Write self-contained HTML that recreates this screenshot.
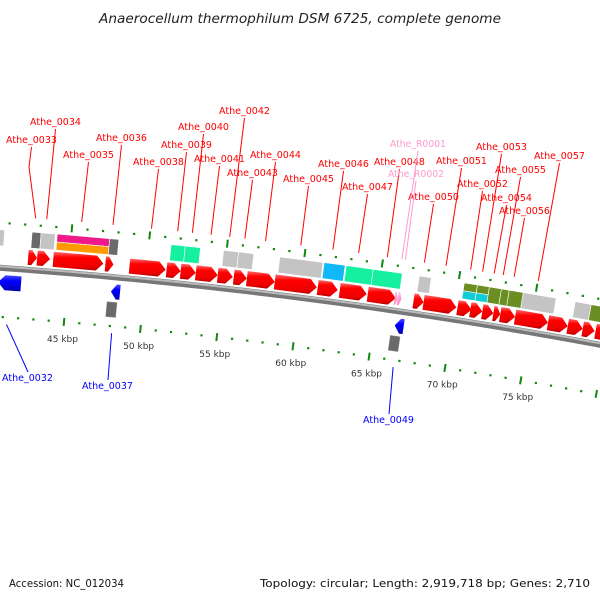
<!DOCTYPE html>
<html><head><meta charset="utf-8"><style>
html,body{margin:0;padding:0;background:#fff;width:600px;height:600px;overflow:hidden}
svg text{font-family:"DejaVu Sans","Liberation Sans",sans-serif}
</style></head><body>
<svg id="map" width="600" height="600" viewBox="0 0 600 600" xmlns="http://www.w3.org/2000/svg">
<defs>
<linearGradient id="gRed" x1="0" y1="0" x2="0" y2="1"><stop offset="0" stop-color="#ff6a6a"/><stop offset="0.3" stop-color="#ff0000"/><stop offset="0.8" stop-color="#ee0000"/><stop offset="1" stop-color="#b00000"/></linearGradient>
<linearGradient id="gBlue" x1="0" y1="0" x2="0" y2="1"><stop offset="0" stop-color="#5050ff"/><stop offset="0.35" stop-color="#0000ff"/><stop offset="1" stop-color="#0000b0"/></linearGradient>
<linearGradient id="gPink" x1="0" y1="0" x2="0" y2="1"><stop offset="0" stop-color="#ffc0e0"/><stop offset="1" stop-color="#ff80c0"/></linearGradient>
<linearGradient id="gBack" x1="0" y1="0" x2="0" y2="1"><stop offset="0" stop-color="#d0d0d0"/><stop offset="0.4" stop-color="#999"/><stop offset="1" stop-color="#666"/></linearGradient>
</defs>
<text x="300" y="23" font-size="13" font-style="italic" fill="#222" text-anchor="middle" textLength="402" lengthAdjust="spacingAndGlyphs">Anaerocellum thermophilum DSM 6725, complete genome</text>
<g id="plot"></g>
<text x="9" y="587" font-size="11" fill="#111" textLength="115" lengthAdjust="spacingAndGlyphs">Accession: NC_012034</text>
<text x="590" y="587" font-size="11" fill="#111" text-anchor="end" textLength="330" lengthAdjust="spacingAndGlyphs">Topology: circular; Length: 2,919,718 bp; Genes: 2,710</text>
</svg>
<script>
// ---- data (positions in kbp) ----
const fwdStart = [39.5,42.35,42.93,43.97,47.34,48.90,51.30,52.21,53.19,54.61,55.65,56.50,58.31,61.10,62.53,64.35,67.33,67.98,70.19,71.03,71.81,72.53,72.98,73.95,76.10,77.39,78.37,79.21];
const fwdEnd   = [40.55,42.93,43.77,47.21,47.86,51.24,52.21,53.19,54.61,55.59,56.50,58.31,61.04,62.40,64.28,66.17,67.98,70.12,71.10,71.81,72.53,72.98,73.95,76.10,77.39,78.37,79.15,80.2];
const fwdLabel = ["","Athe_0033","Athe_0034","Athe_0035","Athe_0036","Athe_0038","Athe_0039","Athe_0040","Athe_0041","Athe_0042","Athe_0043","Athe_0044","Athe_0045","Athe_0046","Athe_0047","Athe_0048","Athe_0050","Athe_0051","Athe_0052","Athe_0053","Athe_0054","Athe_0055","Athe_0056","Athe_0057","","","",""];
const rnaStart = [66.10,66.30];
const rnaEnd   = [66.30,66.55];
const rnaLabel = ["Athe_R0001","Athe_R0002"];
const revStart = [40.53,47.86,66.36];
const revEnd   = [42.02,48.45,66.94];
const revLabel = ["Athe_0032","Athe_0037","Athe_0049"];
const revBoxStart = [47.67,66.17];
const revBoxEnd   = [48.32,66.81];
const featStart = [39.5,42.48,43.06,44.10,44.10,47.47,51.43,52.34,54.81,55.78,58.44,61.30,62.73,64.48,67.46,70.38,71.23,70.38,71.23,72.01,72.79,73.30,74.21,77.59,78.63];
const featEnd   = [40.72,43.06,43.97,47.47,47.47,48.06,52.34,53.32,55.78,56.76,61.23,62.66,64.48,66.36,68.24,71.23,72.01,71.23,72.01,72.79,73.30,74.21,76.35,78.63,80.2];
const featType  = ["lg","dg","lg","pink","orange","dg","mint","mint","lg","lg","lg","blue","mint","mint","lg","olive","olive","cyan","cyan","olive","olive","olive","lg","lg","olive"];
const featRow   = ["full","full","full","top","bottom","full","full","full","full","full","full","full","full","full","full","top","top","bottom","bottom","full","full","full","full","full","full"];
const tickLabels = [45,50,55,60,65,70,75];
// label placement (layout)
const fwdLabelPos = {"Athe_0033":[6,143],"Athe_0034":[30,125],"Athe_0035":[63,158],"Athe_0036":[96,141],"Athe_0038":[133,165],"Athe_0039":[161,148],"Athe_0040":[178,130],"Athe_0041":[194,162],"Athe_0042":[219,114],"Athe_0043":[227,176],"Athe_0044":[250,158],"Athe_0045":[283,182],"Athe_0046":[318,167],"Athe_0047":[342,190],"Athe_0048":[374,165],"Athe_0050":[408,200],"Athe_0051":[436,164],"Athe_0052":[457,187],"Athe_0053":[476,150],"Athe_0054":[481,201],"Athe_0055":[495,173],"Athe_0056":[499,214],"Athe_0057":[534,159],"Athe_R0001":[390,147],"Athe_R0002":[388,177]};
const revLabelPos = {"Athe_0032":[2,381],"Athe_0037":[82,389],"Athe_0049":[363,423]};

const CX=-386, CY=5654, PHI0=4.824, DPHI=0.1644;
function ang(p){return (PHI0+(p-45)*DPHI)*Math.PI/180;}
function pt(p,r){const a=ang(p);return [CX+r*Math.sin(a), CY-r*Math.cos(a)];}
const NS='http://www.w3.org/2000/svg';
const plot=document.getElementById('plot');
function mk(tag,attrs){const e=document.createElementNS(NS,tag);for(const k in attrs)e.setAttribute(k,attrs[k]);plot.appendChild(e);return e;}
function poly(pts){return pts.map(q=>q[0].toFixed(2)+','+q[1].toFixed(2)).join(' ');}
function box(p1,p2,r1,r2){return poly([pt(p1,r1),pt(p2,r1),pt(p2,r2),pt(p1,r2)]);}
function arrowF(p1,p2,r1,r2){const t=Math.min(0.45,(p2-p1)*0.6);const m=(r1+r2)/2;return poly([pt(p1,r1),pt(p2-t,r1),pt(p2,m),pt(p2-t,r2),pt(p1,r2)]);}
function arrowR(p1,p2,r1,r2){const t=Math.min(0.45,(p2-p1)*0.6);const m=(r1+r2)/2;return poly([pt(p2,r1),pt(p1+t,r1),pt(p1,m),pt(p1+t,r2),pt(p2,r2)]);}

// tick rings
for(let p=39;p<=81;p++){
  [5445,5351].forEach(function(r,i){
    let e;
    if(p%5===0){const a=pt(p,r-4),b=pt(p,r+4);
      e=mk('line',{x1:a[0],y1:a[1],x2:b[0],y2:b[1],stroke:'#118811','stroke-width':2});
    }else{const c=pt(p,r);e=mk('rect',{x:c[0]-1.1,y:c[1]-1.1,width:2.2,height:2.2,fill:'#118811'});}
    
    
  });
}
tickLabels.forEach(function(v){
  const c=pt(v,5333);
  const t=mk('text',{x:c[0],y:c[1]+2,'font-size':9,fill:'#333','text-anchor':'middle'});
  t.textContent=v+' kbp';
  
  
});

// backbone
(function(){
  let d='';for(let p=38;p<=82;p+=0.5){const q=pt(p,5400);d+=(d?'L':'M')+q[0].toFixed(2)+' '+q[1].toFixed(2);}
  const s=mk('path',{d:d,stroke:'#777',"stroke-width":6,fill:'none'});
  
  
  let d2='';for(let p=38;p<=82;p+=0.5){const q=pt(p,5401.5);d2+=(d2?'L':'M')+q[0].toFixed(2)+' '+q[1].toFixed(2);}
  const h=mk('path',{d:d2,stroke:'#bbb',"stroke-width":2,fill:'none'});
  
  
})();

// features
const featColor={lg:'#c4c4c4',dg:'#6a6a6a',pink:'#ee1a8c',orange:'#ff9a00',mint:'#14f0a0',blue:'#10b8f8',olive:'#6b8e23',cyan:'#10ccd4'};
for(let i=0;i<featStart.length;i++){
  let r1=5422,r2=5438;
  if(featRow[i]==='top'){r1=5430;}
  if(featRow[i]==='bottom'){r2=5430;}
  const e=mk('polygon',{points:box(featStart[i],featEnd[i],r1,r2),fill:featColor[featType[i]],stroke:'#fff','stroke-width':0.6});
  
  
}
// forward genes
const fwdLines=[];
for(let i=0;i<fwdStart.length;i++){
  const e=mk('polygon',{points:arrowF(fwdStart[i],fwdEnd[i],5405,5420),fill:'url(#gRed)'});
  
  
  if(fwdLabel[i]) fwdLines.push([fwdLabel[i],(fwdStart[i]+fwdEnd[i])/2,'#ff0000']);
}
for(let i=0;i<rnaStart.length;i++){
  const e=mk('polygon',{points:arrowF(rnaStart[i],rnaEnd[i],5406,5419),fill:'url(#gPink)'});
  
  
  fwdLines.push([rnaLabel[i],(rnaStart[i]+rnaEnd[i])/2,'#ff99cc']);
}
for(let i=0;i<revStart.length;i++){
  const e=mk('polygon',{points:arrowR(revStart[i],revEnd[i],5378,5393),fill:'url(#gBlue)'});
  
  
  const pos=revLabelPos[revLabel[i]];
  const a=pt((revStart[i]+revEnd[i])/2,5344);
  const ln=mk('line',{x1:a[0],y1:a[1],x2:pos[0]+26,y2:pos[1]-9,stroke:'#0000ff','stroke-width':1});
  
  
  const t=mk('text',{x:pos[0],y:pos[1],'font-size':10,fill:'#0000ff',textLength:51,lengthAdjust:'spacingAndGlyphs'});
  t.textContent=revLabel[i];
  
  
}
for(let i=0;i<revBoxStart.length;i++){
  const e=mk('polygon',{points:box(revBoxStart[i],revBoxEnd[i],5360,5375),fill:'#6a6a6a',stroke:'#999','stroke-width':0.5});
  
  
}
fwdLines.forEach(function(L){
  const pos=fwdLabelPos[L[0]];
  const a=pt(L[1],5452);
  const w=L[0].length>9?56:51;
  const cx=pos[0]+w/2;
  let ln;
  if(L[0]==='Athe_0033'){
    ln=mk('polyline',{points:poly([[cx,pos[1]+4],[29,167],a]),stroke:L[2],'stroke-width':1,fill:'none'});
  }else{
    ln=mk('line',{x1:cx,y1:pos[1]+4,x2:a[0],y2:a[1],stroke:L[2],'stroke-width':1});
  }
  
  
  const t=mk('text',{x:pos[0],y:pos[1],'font-size':10,fill:L[2],textLength:w,lengthAdjust:'spacingAndGlyphs'});
  t.textContent=L[0];
  
  
});
</script>
</body></html>
